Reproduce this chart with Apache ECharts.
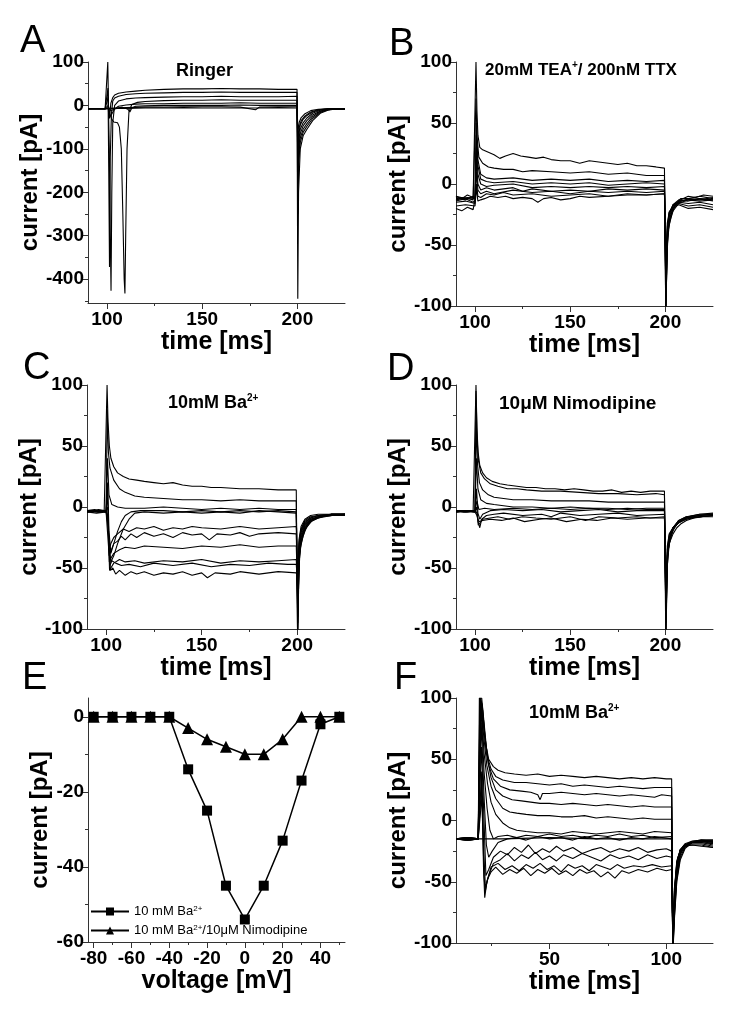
<!DOCTYPE html>
<html>
<head>
<meta charset="utf-8">
<script src="https://cdn.jsdelivr.net/npm/echarts@6/dist/echarts.min.js"></script>
<style>
  html, body { margin: 0; padding: 0; background: #fff; }
  #main { width: 729px; height: 1014px; }
</style>
</head>
<body>
<div id="main"></div>
<script>
// ---- panel A : Ringer (time ms, current pA) ----
var tracesA = [
  [[90,-7],[99,-8],[100,-7],[100.4,100],[100.8,-10],[101.3,-30],[102,5],[103,18],[104,24],[106,28],[110,31],[115,33],[120,35],[130,37],[140,38],[150,38],[160,39],[170,38],[180,38],[190,37],[199.8,37],[200.2,-445],[200.6,-200],[201.5,-100],[203,-70],[205,-55],[208,-35],[212,-18],[216,-11],[220,-8],[225,-8]],
  [[90,-8],[99,-7],[100,-8],[100.5,40],[100.9,-150],[101.3,-372],[101.7,-120],[102.3,-20],[103,10],[104,17],[106,21],[110,25],[115,27],[120,28],[130,29],[140,30],[150,30],[160,31],[170,30],[180,30],[190,30],[199.8,30],[200.2,-250],[200.7,-130],[201.5,-85],[203,-62],[205,-48],[208,-30],[212,-16],[216,-10],[220,-8],[225,-8]],
  [[90,-7],[99,-8],[100,-7],[100.6,20],[101.2,-100],[101.7,-300],[102.1,-427],[102.5,-200],[103,-40],[104,0],[106,10],[110,15],[115,17],[120,18],[130,19],[140,20],[150,20],[160,21],[170,20],[180,20],[190,20],[199.8,21],[200.3,-180],[200.8,-110],[201.5,-75],[203,-55],[205,-42],[208,-26],[212,-14],[216,-10],[220,-8],[225,-8]],
  [[90,-8],[99,-7],[100,-8],[100.7,0],[101.5,-20],[102.5,-32],[103.5,-38],[104.5,-40],[105.5,-40],[106.5,-50],[107.5,-100],[108.3,-250],[109,-400],[109.4,-433],[109.8,-300],[110.5,-100],[111.5,-15],[113,2],[116,7],[120,9],[130,11],[140,12],[150,12],[160,13],[170,12],[180,12],[190,12],[199.8,12],[200.3,-150],[200.8,-95],[201.5,-65],[203,-47],[205,-35],[208,-22],[212,-13],[216,-9],[225,-8]],
  [[90,-7],[99,-8],[100,-7],[100.8,-5],[101.5,-25],[102.5,-20],[104,-8],[106,-2],[110,1],[115,3],[120,4],[130,4],[140,5],[150,5],[160,5],[170,6],[180,5],[190,5],[199.8,5],[200.3,-120],[200.8,-80],[201.5,-55],[203,-40],[205,-29],[208,-18],[212,-11],[216,-9],[225,-8]],
  [[90,-8],[99,-7],[100,-8],[101,-6],[102,-12],[104,-8],[108,-4],[111,-9],[112,-15],[113,-6],[115,-2],[120,-1],[130,0],[140,0],[150,0],[160,0],[170,1],[180,0],[190,0],[199.8,0],[200.3,-100],[200.8,-65],[201.5,-45],[203,-32],[205,-23],[208,-15],[212,-10],[216,-8],[225,-8]],
  [[90,-7],[100,-7],[101,-8],[104,-6],[110,-5],[120,-4],[130,-4],[140,-3],[150,-3],[160,-3],[170,-4],[178,-10],[180,-4],[190,-3],[199.8,-3],[200.3,-80],[201,-50],[202,-35],[204,-24],[207,-15],[211,-10],[216,-8],[225,-8]],
  [[90,-8],[100,-8],[102,-7],[110,-7],[120,-6],[130,-6],[140,-5],[150,-6],[160,-6],[170,-6],[180,-6],[190,-5],[199.8,-6],[200.3,-60],[201,-38],[202,-28],[204,-19],[207,-12],[211,-9],[216,-8],[225,-8]]
];

// ---- panel B : 20mM TEA+ / 200nM TTX ----
var tracesB = [
  [[90,-10],[93,-12],[96,-9],[99,-11],[100,-10],[100.5,100],[101,60],[101.5,40],[102.5,30],[104,28],[107,26],[110,24],[113,21],[116,23],[120,25],[124,23],[128,22],[132,21],[136,22],[140,20],[145,19],[150,19],[155,17],[160,19],[165,18],[170,17],[175,16],[180,17],[185,15],[190,15],[195,14],[199.5,13],[200.2,-110],[200.8,-60],[201.5,-38],[203,-26],[205,-18],[208,-13],[212,-10],[216,-11],[220,-9],[225,-10]],
  [[90,-12],[94,-11],[99,-13],[100,-12],[100.5,70],[101,40],[102,22],[104,17],[107,14],[110,13],[115,12],[120,12],[125,10],[130,11],[140,10],[150,9],[160,10],[170,8],[180,9],[190,7],[199.5,7],[200.2,-105],[200.8,-55],[201.5,-35],[203,-24],[205,-17],[208,-12],[212,-12],[218,-10],[225,-12]],
  [[90,-14],[95,-12],[99,-15],[100,-13],[100.6,50],[101.5,20],[103,8],[106,5],[110,4],[120,5],[130,3],[140,4],[150,3],[160,4],[170,2],[180,3],[190,2],[199.5,3],[200.3,-100],[201,-50],[202,-33],[204,-22],[207,-16],[212,-13],[218,-14],[225,-13]],
  [[90,-11],[95,-13],[99,-10],[100,-12],[100.6,40],[101.5,15],[103,4],[106,2],[110,1],[120,2],[130,0],[140,1],[150,0],[160,1],[170,-1],[180,0],[190,1],[199.5,0],[200.3,-100],[201,-45],[202,-30],[204,-20],[207,-15],[212,-12],[218,-13],[225,-11]],
  [[90,-13],[96,-11],[100,-12],[100.7,30],[101.5,8],[103,0],[106,-2],[110,-1],[120,0],[130,-3],[140,-2],[150,-3],[160,-2],[170,-3],[180,-2],[190,-3],[199.5,-2],[200.3,-95],[201,-42],[202,-27],[204,-18],[207,-14],[212,-13],[218,-12],[225,-14]],
  [[90,-10],[95,-12],[100,-11],[100.7,20],[101.5,0],[103,-5],[106,-3],[110,-5],[120,-3],[125,-6],[130,-4],[140,-6],[150,-5],[160,-6],[170,-4],[180,-5],[190,-4],[199.5,-5],[200.3,-90],[201,-40],[202,-25],[204,-17],[207,-13],[212,-14],[218,-12],[225,-13]],
  [[90,-15],[95,-14],[100,-16],[100.8,10],[101.5,-5],[103,-8],[106,-6],[110,-8],[120,-5],[130,-7],[140,-6],[150,-8],[160,-6],[170,-7],[180,-6],[190,-7],[199.5,-6],[200.3,-80],[201,-38],[202,-24],[204,-17],[207,-15],[212,-16],[218,-15],[225,-17]],
  [[90,-18],[95,-17],[100,-18],[100.8,0],[101.5,-10],[103,-11],[106,-8],[110,-9],[115,-7],[120,-9],[130,-8],[140,-10],[150,-9],[160,-8],[170,-10],[180,-8],[190,-9],[199.5,-8],[200.3,-70],[201,-35],[202,-23],[204,-18],[207,-16],[212,-18],[218,-17],[225,-19]],
  [[90,-20],[93,-22],[96,-19],[99,-21],[100,-20],[100.8,-5],[101.5,-14],[103,-13],[105,-12],[108,-10],[112,-11],[116,-10],[120,-12],[125,-11],[130,-12],[133,-15],[136,-12],[140,-11],[145,-13],[150,-12],[155,-10],[160,-11],[170,-10],[180,-9],[190,-9],[199.5,-8],[200.3,-60],[201,-32],[202,-23],[204,-19],[207,-17],[212,-20],[218,-19],[225,-21]]
];

// ---- panel C : 10mM Ba2+ ----
var tracesC = [
  [[90,-3],[93,-4],[96,-2],[99,-3],[100,-3],[100.5,100],[101,70],[101.7,50],[102.5,40],[104,33],[106,28],[109,25],[112,23],[116,22],[120,21],[125,20],[130,19],[135,20],[140,18],[145,17],[150,17],[155,16],[160,16],[170,15],[180,15],[190,14],[199.5,14],[200.2,-110],[200.8,-55],[201.5,-35],[203,-24],[205,-16],[208,-11],[212,-8],[218,-6],[225,-6]],
  [[90,-4],[95,-3],[100,-4],[100.6,80],[101.2,45],[102,32],[104,22],[107,15],[110,12],[115,9],[120,8],[130,7],[140,6],[150,6],[160,5],[170,6],[180,5],[190,5],[199.5,5],[200.2,-105],[200.8,-50],[201.5,-32],[203,-22],[205,-15],[208,-10],[212,-8],[225,-6]],
  [[90,-3],[96,-4],[100,-3],[100.7,40],[101.5,10],[103,2],[106,0],[110,-1],[120,-1],[130,0],[140,-1],[150,-2],[160,-1],[170,-2],[180,-1],[190,-2],[199.5,-2],[200.3,-100],[201,-45],[202,-30],[204,-19],[207,-12],[211,-9],[218,-6],[225,-6]],
  [[90,-3],[94,-2],[100,-4],[100.8,20],[101.5,-20],[102.5,-38],[104,-30],[106,-20],[108,-12],[110,-7],[113,-4],[118,-3],[130,-3],[140,-4],[150,-3],[160,-4],[170,-3],[180,-4],[190,-3],[199.5,-4],[200.3,-95],[201,-42],[202,-27],[204,-17],[207,-11],[211,-9],[218,-7],[225,-7]],
  [[90,-4],[96,-3],[100,-3],[100.8,10],[101.5,-30],[102.5,-45],[104,-40],[106,-30],[109,-18],[112,-10],[115,-5],[120,-4],[130,-5],[140,-4],[150,-5],[160,-4],[170,-5],[180,-3],[190,-4],[199.5,-5],[200.3,-90],[201,-40],[202,-25],[204,-16],[207,-11],[211,-8],[218,-7],[225,-7]],
  [[90,-3],[96,-4],[100,-3],[100.9,0],[101.5,-35],[102.5,-30],[104,-25],[106,-22],[109,-18],[112,-20],[116,-17],[120,-18],[125,-16],[130,-19],[135,-17],[140,-18],[145,-16],[150,-17],[160,-18],[170,-16],[180,-18],[190,-17],[199.5,-16],[200.3,-85],[201,-37],[202,-23],[204,-15],[207,-10],[211,-8],[218,-6],[225,-6]],
  [[90,-4],[95,-3],[100,-4],[101,-5],[101.6,-40],[102.5,-36],[104,-30],[106,-28],[108,-24],[110,-27],[113,-22],[116,-25],[120,-21],[125,-24],[130,-22],[135,-25],[140,-21],[145,-23],[150,-22],[154,-27],[158,-22],[165,-23],[170,-21],[175,-24],[180,-22],[190,-21],[199.5,-22],[200.3,-80],[201,-35],[202,-21],[204,-14],[207,-10],[211,-8],[218,-6],[225,-6]],
  [[90,-3],[96,-4],[100,-3],[101,-8],[101.7,-45],[102.5,-42],[104,-38],[107,-35],[110,-33],[115,-34],[120,-32],[130,-33],[140,-34],[150,-32],[160,-33],[170,-31],[180,-33],[190,-32],[199.5,-32],[200.3,-75],[201,-32],[202,-20],[204,-13],[207,-9],[211,-7],[218,-6],[225,-6]],
  [[90,-4],[95,-3],[100,-4],[101,-10],[101.8,-52],[102.5,-50],[104,-46],[107,-43],[110,-45],[115,-44],[120,-46],[130,-44],[140,-45],[150,-43],[160,-46],[170,-44],[180,-45],[190,-44],[199.5,-43],[200.3,-70],[201,-30],[202,-19],[204,-12],[207,-9],[211,-7],[218,-6],[225,-6]],
  [[90,-3],[100,-3],[101,-12],[102,-48],[103,-44],[105,-46],[108,-48],[112,-47],[118,-49],[125,-46],[135,-48],[145,-46],[155,-49],[165,-47],[175,-48],[185,-46],[195,-47],[199.5,-47],[200.3,-65],[201,-28],[202,-18],[204,-11],[207,-8],[211,-7],[225,-6]],
  [[90,-4],[95,-5],[100,-4],[101,-15],[102.3,-52],[103.5,-50],[105,-55],[107,-52],[110,-56],[113,-53],[116,-55],[120,-53],[125,-56],[130,-54],[135,-55],[140,-53],[145,-56],[150,-54],[153,-58],[157,-54],[165,-55],[170,-53],[180,-55],[190,-53],[199.5,-54],[200.3,-60],[201,-26],[202,-16],[204,-10],[207,-7],[211,-6],[225,-6]]
];

// ---- panel D : 10uM Nimodipine ----
var tracesD = [
  [[90,-3],[94,-4],[99,-3],[100,-3],[100.5,100],[101,65],[101.6,45],[102.5,34],[104,28],[106,24],[109,21],[113,19],[117,18],[122,17],[127,16],[132,16],[137,15],[142,15],[147,14],[152,15],[157,14],[162,13],[167,13],[172,14],[177,12],[182,13],[187,12],[192,13],[199.5,13],[200.2,-110],[200.8,-55],[201.5,-35],[203,-23],[205,-16],[208,-11],[212,-8],[218,-6],[225,-5]],
  [[90,-4],[95,-3],[100,-4],[100.5,95],[101.1,55],[101.8,38],[103,28],[105,23],[108,19],[112,17],[117,15],[122,15],[127,14],[135,13],[145,13],[155,12],[165,11],[175,11],[185,10],[195,11],[199.5,10],[200.3,-105],[201,-48],[202,-30],[204,-19],[207,-12],[211,-9],[218,-7],[225,-6]],
  [[90,-3],[96,-4],[100,-3],[100.6,70],[101.3,35],[102.3,20],[104,14],[107,10],[110,8],[115,7],[120,6],[130,6],[140,5],[150,5],[160,5],[170,4],[180,4],[190,4],[199.5,4],[200.3,-100],[201,-45],[202,-28],[204,-18],[207,-12],[211,-9],[218,-7],[225,-6]],
  [[90,-4],[95,-3],[100,-4],[100.7,40],[101.5,15],[103,6],[106,3],[110,2],[115,1],[120,0],[130,0],[140,-1],[150,0],[160,-1],[170,-1],[180,-2],[190,-1],[199.5,-1],[200.3,-95],[201,-42],[202,-27],[204,-17],[207,-11],[211,-8],[218,-6],[225,-6]],
  [[90,-3],[100,-3],[100.8,15],[101.5,-5],[102.5,-10],[104,-6],[108,-3],[115,-2],[125,-3],[135,-2],[145,-4],[155,-3],[165,-2],[175,-4],[185,-3],[199.5,-3],[200.3,-90],[201,-40],[202,-26],[204,-17],[207,-11],[211,-8],[218,-7],[225,-6]],
  [[90,-4],[96,-3],[100,-4],[100.9,0],[101.6,-12],[102.5,-17],[103.5,-10],[106,-7],[110,-6],[115,-5],[125,-7],[135,-6],[140,-8],[145,-5],[155,-7],[165,-6],[175,-5],[185,-7],[199.5,-6],[200.3,-85],[201,-38],[202,-25],[204,-17],[207,-12],[211,-9],[218,-8],[225,-7]],
  [[90,-3],[95,-4],[100,-3],[101,-5],[101.7,-15],[102.7,-14],[104,-10],[108,-9],[112,-8],[118,-10],[125,-8],[132,-9],[140,-10],[150,-8],[158,-11],[165,-8],[175,-9],[185,-8],[192,-9],[199.5,-8],[200.3,-80],[201,-35],[202,-23],[204,-17],[207,-13],[211,-10],[218,-8],[225,-7]],
  [[90,-4],[100,-4],[101,-7],[102,-12],[104,-11],[108,-10],[114,-11],[120,-9],[126,-12],[134,-10],[140,-9],[148,-12],[156,-10],[164,-11],[172,-9],[180,-10],[190,-9],[199.5,-9],[200.3,-75],[201,-32],[202,-22],[204,-17],[206,-14],[209,-11],[213,-9],[218,-8],[225,-7]],
  [[90,-3],[100,-3],[101,5],[102,-2],[105,-1],[110,-2],[120,-1],[130,-2],[140,-1],[150,-2],[160,-1],[170,-2],[180,-1],[190,-2],[199.5,-2],[200.3,-70],[201,-40],[202,-30],[204,-22],[206,-17],[208,-14],[211,-11],[215,-9],[220,-8],[225,-8]]
];

// ---- panel E : I-V relation ----
var voltE = [-80, -70, -60, -50, -40, -30, -20, -10, 0, 10, 20, 30, 40, 50];
var baE   = [0, 0, 0, 0, 0, -14, -25, -45, -54, -45, -33, -17, -2, 0];
var nimoE = [0, 0, 0, 0, 0, -3, -6, -8, -10, -10, -6, 0, 0, 0];

// ---- panel F : 10mM Ba2+ (second cell) ----
var tracesF = [
  [[10,-15],[14,-14],[18,-15],[19.5,-15],[20,100],[21,100],[22,80],[23,60],[24,50],[26,44],[28,41],[31,39],[35,38],[40,37],[45,38],[50,36],[55,37],[60,36],[65,35],[70,36],[75,35],[80,34],[85,35],[90,34],[95,35],[100,34],[102.3,34],[102.8,-110],[103.5,-80],[104.5,-50],[106,-32],[108,-23],[111,-18],[115,-16],[120,-16]],
  [[10,-15],[15,-16],[19.5,-15],[20.2,100],[21.2,95],[22.3,70],[23.5,52],[25,42],[27,36],[30,33],[35,31],[40,31],[45,30],[50,29],[55,30],[60,28],[65,29],[70,28],[75,27],[80,28],[85,27],[90,26],[95,27],[102.3,27],[102.8,-108],[103.5,-78],[104.5,-48],[106,-30],[108,-22],[111,-18],[115,-17],[120,-17]],
  [[10,-15],[16,-14],[19.5,-15],[20.3,100],[21.4,90],[22.6,65],[24,45],[26,34],[29,28],[33,25],[38,24],[42,23],[45,21],[46,17],[47,22],[50,22],[55,23],[60,22],[65,21],[70,22],[75,21],[80,20],[85,21],[90,20],[95,19],[98,21],[102.3,20],[102.8,-106],[103.5,-75],[104.5,-45],[106,-28],[108,-21],[111,-18],[115,-17],[120,-18]],
  [[10,-15],[14,-16],[19.5,-15],[20.4,100],[21.6,80],[23,55],[25,35],[27,25],[30,20],[34,17],[38,16],[42,15],[46,14],[50,14],[55,13],[60,14],[65,13],[70,12],[75,13],[80,12],[85,11],[90,12],[95,11],[102.3,11],[102.8,-104],[103.5,-72],[104.5,-43],[106,-27],[108,-21],[111,-18],[115,-17],[120,-19]],
  [[10,-15],[15,-15],[19.5,-15],[20.5,100],[21.8,70],[23.2,45],[25,28],[27,18],[30,10],[33,7],[36,6],[40,5],[45,4],[50,4],[55,3],[60,3],[65,4],[70,2],[75,3],[80,2],[85,1],[90,2],[95,1],[102.3,1],[102.8,-102],[103.5,-70],[104.5,-42],[106,-26],[108,-20],[111,-18],[115,-17],[120,-18]],
  [[10,-15],[16,-15],[19.5,-15],[20.6,100],[22,55],[23.5,30],[25,15],[27,5],[30,-2],[33,-6],[36,-8],[40,-9],[45,-10],[50,-10],[55,-11],[60,-9],[65,-10],[70,-11],[75,-10],[80,-9],[85,-10],[90,-11],[95,-9],[102.3,-10],[102.8,-100],[103.5,-68],[104.5,-40],[106,-25],[108,-20],[111,-17],[115,-16],[120,-17]],
  [[10,-15],[15,-14],[19.5,-15],[20.7,95],[22,40],[23.3,10],[24.5,-8],[26,-15],[28,-13],[32,-12],[36,-14],[40,-12],[45,-13],[50,-11],[55,-13],[60,-12],[65,-14],[70,-12],[75,-13],[80,-11],[85,-13],[90,-12],[95,-14],[102.3,-13],[102.8,-100],[103.5,-66],[104.5,-38],[106,-24],[108,-19],[111,-17],[115,-16],[120,-16]],
  [[10,-15],[16,-16],[19.5,-15],[20.8,80],[22,20],[23,-20],[24,-30],[25.5,-25],[28,-18],[32,-15],[36,-14],[40,-16],[45,-13],[50,-15],[55,-14],[60,-16],[65,-13],[70,-15],[75,-14],[80,-16],[85,-14],[90,-15],[95,-13],[102.3,-15],[102.8,-100],[103.5,-64],[104.5,-37],[106,-24],[108,-20],[111,-18],[115,-18],[120,-19]],
  [[10,-15],[15,-15],[19.5,-15],[20.9,60],[22,0],[22.8,-45],[24,-40],[26,-30],[29,-25],[32,-28],[35,-22],[38,-26],[41,-20],[44,-27],[47,-23],[50,-26],[53,-21],[56,-25],[60,-22],[64,-27],[68,-24],[72,-22],[76,-26],[80,-23],[84,-25],[88,-22],[92,-26],[96,-24],[100,-23],[102.3,-25],[102.8,-100],[103.5,-62],[104.5,-36],[106,-24],[108,-20],[111,-18],[115,-18],[120,-20]],
  [[10,-15],[16,-14],[19.5,-15],[21,40],[22,-30],[22.6,-55],[24,-45],[26,-35],[29,-32],[32,-27],[35,-33],[38,-28],[41,-31],[44,-26],[47,-32],[50,-29],[53,-33],[56,-28],[60,-31],[64,-27],[68,-30],[72,-33],[76,-28],[80,-31],[84,-29],[88,-32],[92,-28],[96,-31],[100,-29],[102.3,-30],[102.8,-100],[103.5,-60],[104.5,-35],[106,-24],[108,-20],[111,-19],[115,-19],[120,-21]],
  [[10,-15],[15,-16],[19.5,-15],[21,30],[21.8,-40],[22.3,-63],[23.2,-50],[25,-38],[28,-35],[31,-40],[34,-37],[37,-41],[40,-36],[43,-39],[46,-35],[49,-40],[52,-37],[55,-42],[58,-36],[61,-39],[64,-37],[67,-41],[70,-36],[73,-38],[76,-40],[79,-36],[82,-39],[86,-37],[90,-38],[94,-36],[98,-38],[102.3,-37],[102.8,-100],[103.5,-58],[104.5,-34],[106,-24],[108,-21],[111,-20],[115,-20],[120,-22]],
  [[10,-15],[16,-15],[19.5,-15],[21.1,20],[22,-45],[22.5,-58],[23.5,-48],[25,-42],[27,-38],[30,-44],[33,-40],[36,-43],[39,-39],[42,-45],[45,-40],[48,-43],[51,-39],[54,-44],[57,-41],[60,-45],[63,-40],[66,-43],[69,-41],[72,-46],[75,-42],[78,-47],[81,-41],[84,-43],[88,-40],[92,-42],[96,-39],[100,-41],[102.3,-40],[102.8,-100],[103.5,-56],[104.5,-33],[106,-24],[108,-21],[111,-20],[115,-21],[120,-22]],
  [[10,-15],[30,-15],[50,-14],[70,-15],[90,-15],[102.3,-15],[102.8,-95],[103.5,-55],[105,-30],[107,-22],[110,-18],[115,-17],[120,-17]]
];

// tick positions
var timeMajor = [100, 150, 200];
var timeMinor = [125, 175];
var curMajor = [-100, -50, 0, 50, 100];
var curMinor = [-75, -25, 25, 75];
var ringerMajor = [100, 0, -100, -200, -300, -400];
var ringerMinor = [50, -50, -150, -250, -350, -450];
var voltMajor = [-80, -60, -40, -20, 0, 20, 40];
var voltMinor = [-70, -50, -30, -10, 10, 30, 50];
var ivMajor = [0, -20, -40, -60];
var ivMinor = [-10, -30, -50];
var timeFMajor = [50, 100];
var timeFMinor = [25, 75];

var FONT = '"Liberation Sans", Arial, Helvetica, sans-serif';
var AXIS_COLOR = '#333';

// main axis (line, big ticks, labels, name) + helper axis carrying the minor ticks
function axisPair(dim, gi, min, max, major, minor, name, nameGap) {
  var pos = dim === 'x' ? 'bottom' : 'left';
  var main = {
    type: 'value', gridIndex: gi, min: min, max: max, position: pos,
    name: name, nameLocation: 'middle', nameGap: nameGap,
    nameTextStyle: { fontFamily: FONT, fontWeight: 'bold', fontSize: dim === 'x' ? 25 : 24, color: '#000' },
    axisLine: { show: true, onZero: false, lineStyle: { color: AXIS_COLOR, width: 1 } },
    axisTick: { show: true, inside: false, length: 6, customValues: major, lineStyle: { color: AXIS_COLOR } },
    axisLabel: { show: true, customValues: major, margin: dim === 'x' ? 7 : 4,
      fontFamily: FONT, fontWeight: 'bold', fontSize: 19, color: '#000' },
    splitLine: { show: false }
  };
  var sub = {
    type: 'value', gridIndex: gi, min: min, max: max, position: pos,
    axisLine: { show: false, onZero: false },
    axisTick: { show: true, inside: false, length: 3, customValues: minor, lineStyle: { color: AXIS_COLOR } },
    axisLabel: { show: false },
    splitLine: { show: false }
  };
  return [main, sub];
}

var grids = [
  { left: 88, top: 62, width: 257, height: 241 },
  { left: 456, top: 62, width: 257, height: 244 },
  { left: 87, top: 385, width: 258, height: 244 },
  { left: 456, top: 385, width: 257, height: 244 },
  { left: 88, top: 698, width: 257, height: 244 },
  { left: 456, top: 698, width: 257, height: 245 }
];

var xAxes = [].concat(
  axisPair('x', 0, 90, 225, timeMajor, timeMinor, 'time [ms]', 22),
  axisPair('x', 1, 90, 225, timeMajor, timeMinor, 'time [ms]', 22),
  axisPair('x', 2, 90, 225, timeMajor, timeMinor, 'time [ms]', 20),
  axisPair('x', 3, 90, 225, timeMajor, timeMinor, 'time [ms]', 20),
  axisPair('x', 4, -83, 53, voltMajor, voltMinor, 'voltage [mV]', 22),
  axisPair('x', 5, 10, 120, timeFMajor, timeFMinor, 'time [ms]', 22)
);
var yAxes = [].concat(
  axisPair('y', 0, -455, 100, ringerMajor, ringerMinor, 'current [pA]', 31),
  axisPair('y', 1, -100, 100, curMajor, curMinor, 'current [pA]', 30),
  axisPair('y', 2, -100, 100, curMajor, curMinor, 'current [pA]', 31),
  axisPair('y', 3, -100, 100, curMajor, curMinor, 'current [pA]', 30),
  axisPair('y', 4, -60, 5, ivMajor, ivMinor, 'current [pA]', 31),
  axisPair('y', 5, -100, 100, curMajor, curMinor, 'current [pA]', 30)
);

var series = [];
function addTraces(list, gi) {
  list.forEach(function (tr) {
    series.push({
      type: 'line', xAxisIndex: gi * 2, yAxisIndex: gi * 2,
      data: tr, symbol: 'none', silent: true, animation: false,
      lineStyle: { color: '#000', width: 1.1 }
    });
  });
}
addTraces(tracesA, 0);
addTraces(tracesB, 1);
addTraces(tracesC, 2);
addTraces(tracesD, 3);
addTraces(tracesF, 5);

series.push({
  name: 'ba', type: 'line', xAxisIndex: 8, yAxisIndex: 8,
  data: voltE.map(function (v, i) { return [v, baE[i]]; }),
  symbol: 'rect', symbolSize: 10, animation: false,
  lineStyle: { color: '#000', width: 1.5 }, itemStyle: { color: '#000' }
});
series.push({
  name: 'nimo', type: 'line', xAxisIndex: 8, yAxisIndex: 8,
  data: voltE.map(function (v, i) { return [v, nimoE[i]]; }),
  symbol: 'triangle', symbolSize: 12, animation: false,
  lineStyle: { color: '#000', width: 1.5 }, itemStyle: { color: '#000' }
});

var sup = { fontSize: 10, fontWeight: 'bold', fontFamily: FONT, color: '#000', verticalAlign: 'top', lineHeight: 12 };
function panelTitle(text, left, top, size) {
  return { text: text, left: left, top: top, padding: 0,
    textStyle: { fontFamily: FONT, fontWeight: 'bold', fontSize: size || 18, color: '#000', lineHeight: 20,
      rich: { sup: sup } } };
}
function letter(text, left, top) {
  return { text: text, left: left, top: top, padding: 0,
    textStyle: { fontFamily: FONT, fontWeight: 'normal', fontSize: 38, color: '#000' } };
}

var option = {
  backgroundColor: '#fff',
  animation: false,
  title: [
    letter('A', 20, 23), letter('B', 389, 26), letter('C', 23, 350),
    letter('D', 387, 351), letter('E', 22, 660), letter('F', 394, 660),
    panelTitle('Ringer', 176, 61),
    panelTitle('20mM TEA{sup|+}/ 200nM TTX', 485, 60, 17),
    panelTitle('10mM Ba{sup|2+}', 168, 393),
    panelTitle('10\u03bcM Nimodipine', 499, 394, 19),
    panelTitle('10mM Ba{sup|2+}', 529, 703)
  ],
  legend: {
    data: ['ba', 'nimo'], orient: 'vertical', left: 90, top: 905,
    itemWidth: 38, itemHeight: 10, itemGap: 6, padding: 0,
    formatter: function (n) {
      return n === 'ba' ? '10 mM Ba{s|2+}' : '10 mM Ba{s|2+}/10\u03bcM Nimodipine';
    },
    textStyle: { fontFamily: FONT, fontSize: 13, color: '#000',
      rich: { s: { fontSize: 8, fontFamily: FONT, color: '#000', verticalAlign: 'top' } } }
  },
  grid: grids,
  xAxis: xAxes,
  yAxis: yAxes,
  series: series
};

var chart = echarts.init(document.getElementById('main'));
chart.setOption(option);
</script>
</body>
</html>
